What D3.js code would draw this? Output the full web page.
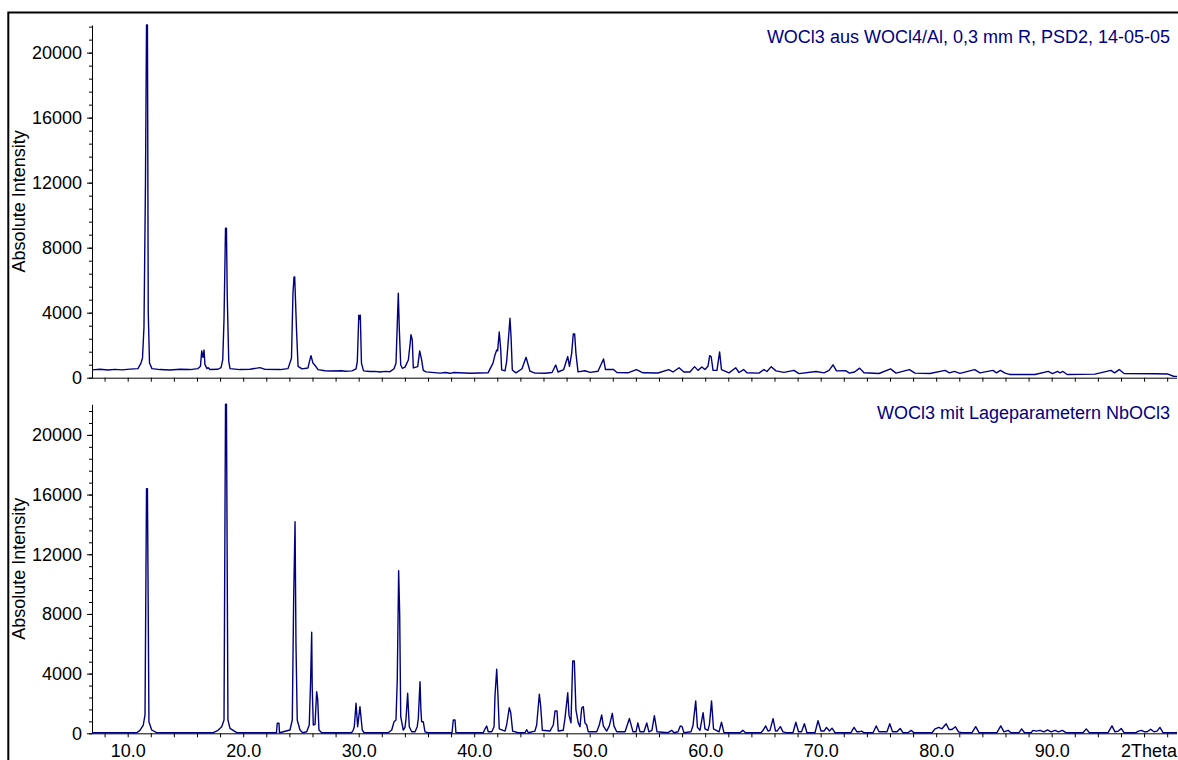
<!DOCTYPE html>
<html><head><meta charset="utf-8">
<script src="https://cdn.jsdelivr.net/npm/d3@7"></script>
<style>
body{margin:0;background:#fff}
svg{display:block}
text{font-family:"Liberation Sans",Arial,sans-serif}
</style>
</head><body>
<svg id="chart" width="1178" height="760"></svg>
<script>
// ---- measured pattern (2Theta, absolute intensity) ----
const topTheta = [6.91,7.60,8.30,8.90,9.51,10.20,10.89,11.15,11.28,11.41,11.54,11.63,11.71,11.78,11.89,12.10,12.80,13.66,14.53,15.39,16.09,16.30,16.41,16.52,16.61,16.69,16.87,16.95,17.13,17.82,18.08,18.23,18.34,18.47,18.55,18.62,18.75,18.86,19.72,20.59,21.46,21.89,23.19,23.88,24.18,24.31,24.40,24.46,24.62,24.75,25.09,25.61,25.74,25.87,26.04,26.26,26.48,27.08,27.52,28.55,28.81,29.42,29.77,29.88,30.01,30.07,30.14,30.24,30.42,30.98,31.41,31.84,32.28,32.71,33.06,33.23,33.34,33.43,33.52,33.64,33.78,34.01,34.30,34.44,34.53,34.64,34.73,35.11,35.28,35.45,35.59,35.83,37.04,37.53,37.91,38.25,39.64,41.20,41.63,41.80,41.95,42.03,42.17,42.30,42.38,42.67,42.81,42.99,43.10,43.19,43.30,43.62,44.14,44.49,44.83,45.26,46.13,46.74,47.06,47.26,47.75,48.10,48.25,48.44,48.58,48.70,48.81,48.99,49.59,50.03,50.72,51.20,51.37,52.06,52.36,53.32,54.04,54.62,55.91,56.85,57.21,57.74,58.16,58.68,59.08,59.38,59.71,59.98,60.24,60.39,60.52,60.68,61.02,61.25,61.41,62.06,62.65,62.93,63.33,63.62,64.66,65.08,65.35,65.72,66.13,66.82,67.69,68.12,69.60,70.29,70.72,71.07,71.37,72.16,72.49,72.93,73.37,73.75,75.05,76.05,76.52,77.68,78.17,79.46,80.77,81.15,81.57,82.06,83.33,83.79,84.92,85.22,85.56,85.96,86.36,88.55,89.70,90.07,90.50,90.72,90.98,91.33,93.75,95.13,95.44,95.85,96.26,98.94,100.07,100.55,100.85];
const topIntensity = [480,520,470,510,480,530,560,900,1200,3100,12000,21700,21700,4000,900,560,500,470,520,500,560,700,1650,1250,1700,800,560,620,500,520,620,1100,3600,9200,9200,5000,1000,560,500,520,620,510,500,560,1200,5200,6200,6200,2900,700,540,600,1000,1360,900,720,500,430,410,430,400,420,550,990,3850,3600,3850,900,420,380,390,350,390,370,550,890,3250,5200,2930,780,580,650,1090,2000,2650,2320,600,680,1645,1100,450,360,280,320,270,320,270,300,900,1400,1710,1650,2815,1700,480,420,990,2630,3660,2530,475,300,550,1255,400,280,270,320,780,350,500,1300,700,1500,2690,2690,1500,360,430,330,400,1150,500,500,320,300,500,300,290,500,350,610,350,350,680,450,655,500,700,1360,1290,450,450,1590,500,300,610,320,500,300,280,500,380,680,420,330,450,250,385,300,450,790,420,430,280,350,590,300,260,540,280,500,280,260,450,300,385,270,500,300,450,300,450,280,200,200,385,250,385,300,385,200,220,450,300,500,260,240,225,90,80];

// ---- calculated pattern (2Theta, absolute intensity) ----
const bottomTheta = [6.91,10.78,11.06,11.35,11.50,11.63,11.71,11.84,12.08,12.51,17.41,17.82,18.14,18.34,18.47,18.55,18.68,18.86,19.44,22.88,22.95,23.10,23.14,24.05,24.25,24.37,24.49,24.57,24.68,24.92,25.15,25.50,25.72,25.84,25.93,25.98,26.07,26.22,26.36,26.45,26.56,26.80,29.39,29.53,29.62,29.77,29.91,30.11,30.31,30.46,32.56,32.86,33.06,33.23,33.34,33.46,33.55,33.64,33.86,34.01,34.10,34.24,34.33,34.38,34.59,34.88,35.07,35.16,35.31,35.39,35.45,35.59,35.74,36.03,38.08,38.19,38.34,38.42,40.79,40.94,41.08,41.22,41.52,41.72,41.80,41.95,42.06,42.17,42.67,42.81,43.04,43.16,43.33,43.82,44.40,44.55,44.68,45.26,45.41,45.64,45.76,45.90,46.56,46.85,47.00,47.17,47.28,47.71,47.86,48.10,48.21,48.38,48.53,48.67,48.81,49.01,49.16,49.31,49.45,49.59,49.74,49.88,50.61,50.83,51.04,51.18,51.47,51.70,51.96,52.10,52.34,53.06,53.44,53.75,54.01,54.17,54.36,54.70,54.94,55.13,55.39,55.60,55.83,56.78,57.10,57.30,57.65,57.84,58.00,58.16,58.77,58.94,59.18,59.33,59.55,59.82,59.98,60.24,60.37,60.55,60.72,61.20,61.41,61.63,63.01,63.26,63.49,64.83,65.01,65.24,65.44,65.61,65.88,66.09,66.22,66.51,66.74,67.00,67.60,67.85,68.08,68.34,68.59,68.81,69.51,69.77,70.03,70.29,70.50,70.76,70.98,71.24,72.62,72.89,73.14,73.32,73.53,73.75,74.53,74.81,75.05,75.74,75.98,76.22,76.61,76.88,77.13,77.56,77.84,78.08,79.64,79.90,80.23,80.50,80.87,81.11,81.37,81.66,81.93,82.23,83.10,83.42,83.71,85.26,85.59,85.87,86.23,86.48,87.17,87.40,87.65,88.21,88.38,88.68,88.99,89.33,89.64,89.94,90.29,90.59,90.92,91.24,92.71,92.99,93.27,94.88,95.22,95.48,95.78,96.02,96.26,97.30,97.52,97.78,98.04,98.25,98.57,98.86,99.12,99.37,99.64,100.85];
const bottomIntensity = [40,40,200,556,1227,16400,16400,778,221,40,40,200,443,890,22050,22050,890,335,40,40,670,670,40,221,890,9000,14185,6000,890,221,40,100,556,3575,6770,3000,556,600,2790,2300,221,40,40,221,443,2010,443,1785,221,40,40,221,778,890,3575,10900,8000,1113,221,400,1000,2680,1200,443,100,100,443,1000,3460,1500,778,778,100,40,40,890,890,40,40,300,490,100,100,443,2500,4290,2500,300,150,556,1715,1400,150,40,40,240,40,150,556,2615,1800,200,150,556,1495,1495,150,200,1000,2720,1200,700,4850,4850,1562,700,443,1700,1785,700,556,100,100,556,1227,500,150,500,1340,500,100,100,988,100,100,692,100,100,692,100,200,1186,100,40,198,40,100,494,445,40,100,500,2174,400,200,1383,300,200,600,2174,300,100,741,40,40,198,40,40,200,494,150,200,988,150,150,445,100,40,40,741,100,100,642,40,40,840,150,150,395,150,346,40,40,395,100,100,148,40,40,494,100,100,642,100,100,321,40,40,198,40,40,300,395,300,642,250,250,445,100,40,40,445,40,40,494,100,198,40,40,296,40,40,198,150,200,100,230,100,200,100,198,40,40,296,40,40,494,100,150,321,40,40,150,198,100,100,272,100,150,395,40,40];

const panelTitles = ["WOCl3 aus WOCl4/Al, 0,3 mm R, PSD2, 14-05-05", "WOCl3 mit Lageparametern NbOCl3"];
const yAxisTitle = "Absolute Intensity";
const xAxisTitle = "2Theta";
const yMajorTicks = [0, 4000, 8000, 12000, 16000, 20000];
const yMinorStep = 800;
const xTickStep = 2;
const xLabelEvery = 10;
const xDomain = [6.91, 100.85];

// ---- layout ----
const svg = d3.select("#chart");
const lineColor = "#000080";
const fontSize = 18;
const xLeft = 92, xRight = 1177;
const x = d3.scaleLinear().domain(xDomain).range([xLeft, xRight]);

const panels = [
  {theta: topTheta, inten: topIntensity, top: 25, bottom: 377.7, title: panelTitles[0], titleY: 43, labels: false},
  {theta: bottomTheta, inten: bottomIntensity, top: 404.3, bottom: 733.3, title: panelTitles[1], titleY: 419, labels: true}
];

const xTicks = d3.range(8, xDomain[1], xTickStep);

panels.forEach(p => {
  const ymax = d3.max(p.inten);
  const y = d3.scaleLinear().domain([0, ymax]).range([p.bottom, p.top]);
  const g = svg.append("g");

  // minor y ticks
  const minor = d3.range(0, ymax + 1, yMinorStep);
  g.append("g").attr("transform", `translate(${xLeft},0)`)
    .call(d3.axisLeft(y).tickValues(minor).tickSize(3).tickSizeOuter(0).tickFormat(""))
    .call(a => a.select(".domain").remove());
  // major y ticks + labels
  const ya = g.append("g").attr("transform", `translate(${xLeft},0)`)
    .call(d3.axisLeft(y).tickValues(yMajorTicks).tickSize(5).tickSizeOuter(0).tickPadding(5).tickFormat(d3.format("d")));
  ya.selectAll("text").attr("font-size", fontSize).attr("fill", "#000").attr("font-family", "Liberation Sans, Arial, sans-serif");
  ya.selectAll("line,path").attr("stroke", "#000");

  // x axis
  const xa = g.append("g").attr("transform", `translate(0,${p.bottom})`)
    .call(d3.axisBottom(x).tickValues(xTicks).tickSize(4).tickSizeOuter(0).tickPadding(7)
      .tickFormat(v => (p.labels && v % xLabelEvery === 0 && v < 100) ? v.toFixed(1) : ""));
  xa.selectAll("text").attr("font-size", fontSize).attr("fill", "#000").attr("font-family", "Liberation Sans, Arial, sans-serif");
  xa.select(".domain").attr("d", `M${xLeft},0.5H${xRight}`);

  // data line
  const pts = p.theta.map((t, i) => [t, p.inten[i]]);
  g.append("path").datum(pts)
    .attr("fill", "none").attr("stroke", lineColor).attr("stroke-width", 1.4)
    .attr("stroke-linejoin", "round")
    .attr("d", d3.line().x(d => x(d[0])).y(d => y(d[1])));

  // y title
  g.append("text").text(yAxisTitle)
    .attr("transform", `translate(25,${(p.top + p.bottom) / 2}) rotate(-90)`)
    .attr("text-anchor", "middle").attr("font-size", fontSize).attr("fill", "#000");

  // panel title
  g.append("text").text(p.title)
    .attr("x", 1170).attr("y", p.titleY).attr("text-anchor", "end")
    .attr("font-size", fontSize).attr("fill", lineColor);

  if (p.labels) {
    g.append("text").text(xAxisTitle)
      .attr("x", 1177).attr("y", 757).attr("text-anchor", "end")
      .attr("font-size", fontSize).attr("fill", "#000");
  }
});

// outer frame (left and top edges)
svg.append("path").attr("d", "M8.3,760V12.5H1178")
  .attr("fill", "none").attr("stroke", "#000").attr("stroke-width", 2);
</script>
</body></html>
